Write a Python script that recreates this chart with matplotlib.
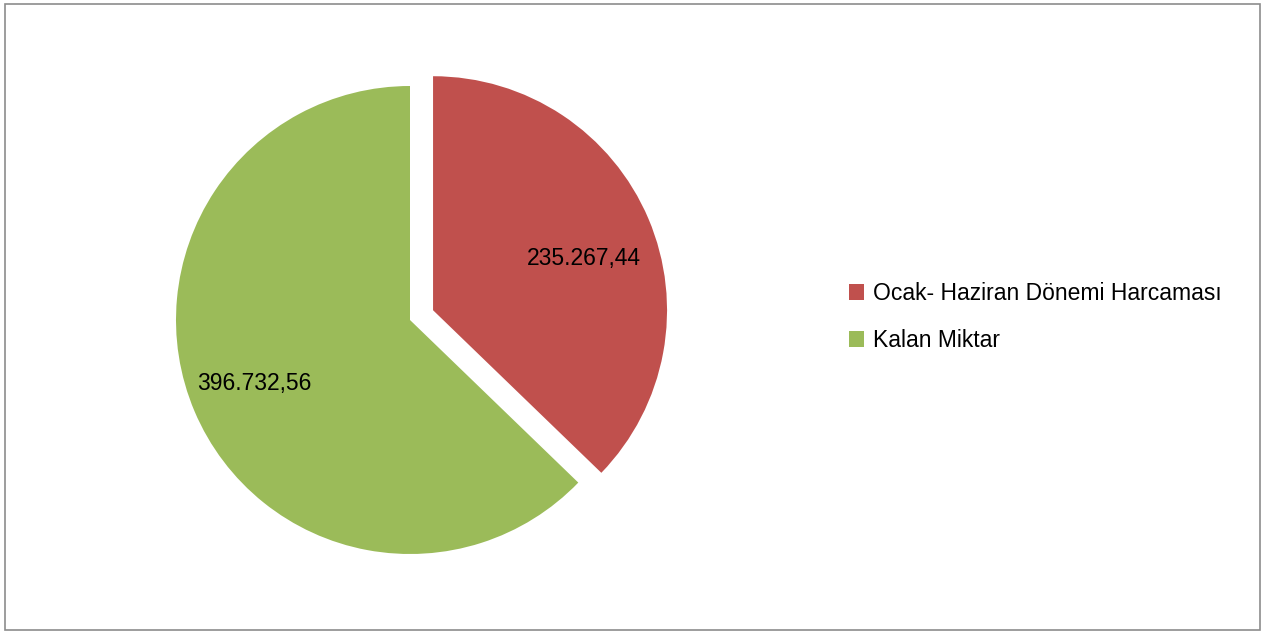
import matplotlib.pyplot as plt
from matplotlib.patches import Rectangle

labels = ['Ocak- Haziran Dönemi Harcaması', 'Kalan Miktar']
values = [235267.44, 396732.56]
colors = ['#C0504D', '#9BBB59']

plt.rcParams['font.family'] = ['Liberation Sans', 'DejaVu Sans']

W, H = 1265, 633
fig = plt.figure(figsize=(W / 100, H / 100), dpi=100)

# gray frame around the chart area
fig.patches.append(Rectangle((5 / W, 3 / H), 1255 / W, 626 / H, transform=fig.transFigure,
                             fill=False, edgecolor='#8c8c8c', linewidth=1.2))

# pie centre ~ (410, 320) px, radius ~ 234 px
cx, cy, r, half = 410, 320, 234, 300
ax = fig.add_axes([(cx - half) / W, (H - cy - half) / H, 2 * half / W, 2 * half / H])


def fmt(pct):
    v = pct / 100 * sum(values)
    s = f'{v:,.2f}'
    return s.replace(',', 'X').replace('.', ',').replace('X', '.')


wedges, texts, autotexts = ax.pie(values, colors=colors, startangle=90, counterclock=False,
                                  explode=[0.107, 0], autopct=fmt, pctdistance=0.69,
                                  textprops={'fontsize': 16.5, 'color': 'black'},
                                  wedgeprops={'linewidth': 0})
# nudge the labels slightly, as in the original
x0, y0 = autotexts[0].get_position()
autotexts[0].set_position((x0 + 0.01, y0 - 0.05))
x1, y1 = autotexts[1].get_position()
autotexts[1].set_position((x1 - 0.03, y1))

lim = half / r
ax.set_xlim(-lim, lim)
ax.set_ylim(-lim, lim)
ax.set_aspect('equal')
ax.axis('off')

fig.legend(wedges, labels, loc='center left', bbox_to_anchor=(828 / W, 1 - 317 / H),
           frameon=False, fontsize=16.5, handlelength=0.65, handleheight=0.65,
           handletextpad=0.4, labelspacing=1.05)

fig.savefig('out.png', dpi=100)
